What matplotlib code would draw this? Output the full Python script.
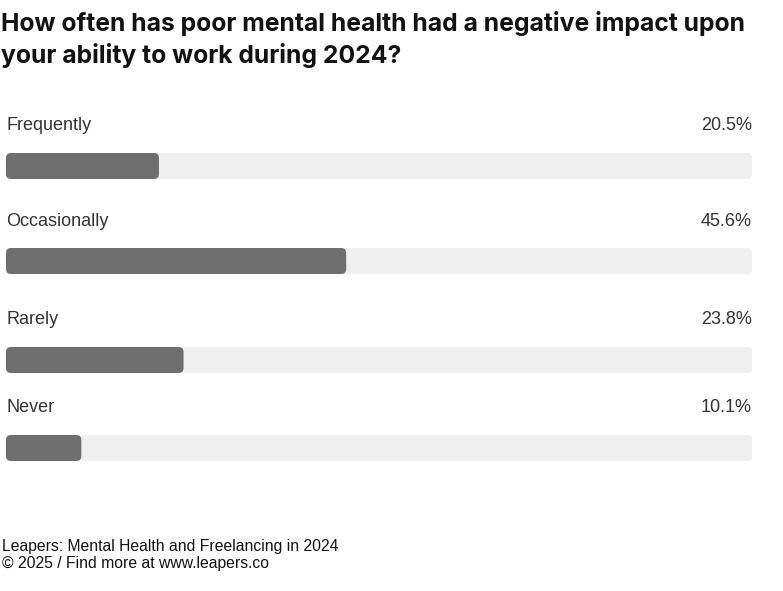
import matplotlib
matplotlib.use("Agg")
import matplotlib.pyplot as plt
from matplotlib.patches import FancyBboxPatch

categories = ["Frequently", "Occasionally", "Rarely", "Never"]
values = [20.5, 45.6, 23.8, 10.1]
value_labels = ["20.5%", "45.6%", "23.8%", "10.1%"]

title = "How often has poor mental health had a negative impact upon\nyour ability to work during 2024?"
footer = "Leapers: Mental Health and Freelancing in 2024\n\u00a9 2025 / Find more at www.leapers.co"

W, H = 783, 591
fig = plt.figure(figsize=(W / 100, H / 100), dpi=100)
fig.patch.set_facecolor("white")

# layout (pixel rows)
bar_y = [166, 261, 360, 448]
label_y = [126, 221, 320, 408]
bar_h = 26
x0, x1 = 6, 752

ax = fig.add_axes([x0 / W, 0, (x1 - x0) / W, 1])
ax.set_xlim(0, 100)
ax.set_ylim(H, 0)
ax.axis("off")

px_x = 100 / (x1 - x0)
r = 5
track_col = "#efefef"
fill_col = "#6e6e6e"

tracks = ax.barh(bar_y, [100] * len(values), height=bar_h, color=track_col)
fills = ax.barh(bar_y, values, height=bar_h, color=fill_col)
for container, col, z in [(tracks, track_col, 1), (fills, fill_col, 2)]:
    for p in container.patches:
        x, y = p.get_x(), p.get_y()
        w, h = p.get_width(), p.get_height()
        p.set_visible(False)
        fb = FancyBboxPatch((x, y), w, h,
                            boxstyle=f"round,pad=0,rounding_size={r * px_x}",
                            mutation_aspect=1 / px_x,
                            facecolor=col, edgecolor="none", zorder=z)
        ax.add_patch(fb)

for cat, vl, ly in zip(categories, value_labels, label_y):
    ax.text(0, ly, cat, ha="left", va="center", fontsize=13,
            family="Liberation Sans", color="#333333")
    ax.text(100, ly, vl, ha="right", va="center", fontsize=13,
            family="Liberation Sans", color="#333333")

fig.text(1 / W, 1 - 40 / H, title, ha="left", va="center", fontsize=17.8,
         family="Inter", fontweight="bold", color="#111111", linespacing=1.35)
fig.text(2 / W, 1 - 555 / H, footer, ha="left", va="center", fontsize=11.3,
         family="Liberation Sans", color="#111111", linespacing=1.2)

fig.savefig("out.png", dpi=100, facecolor="white")
